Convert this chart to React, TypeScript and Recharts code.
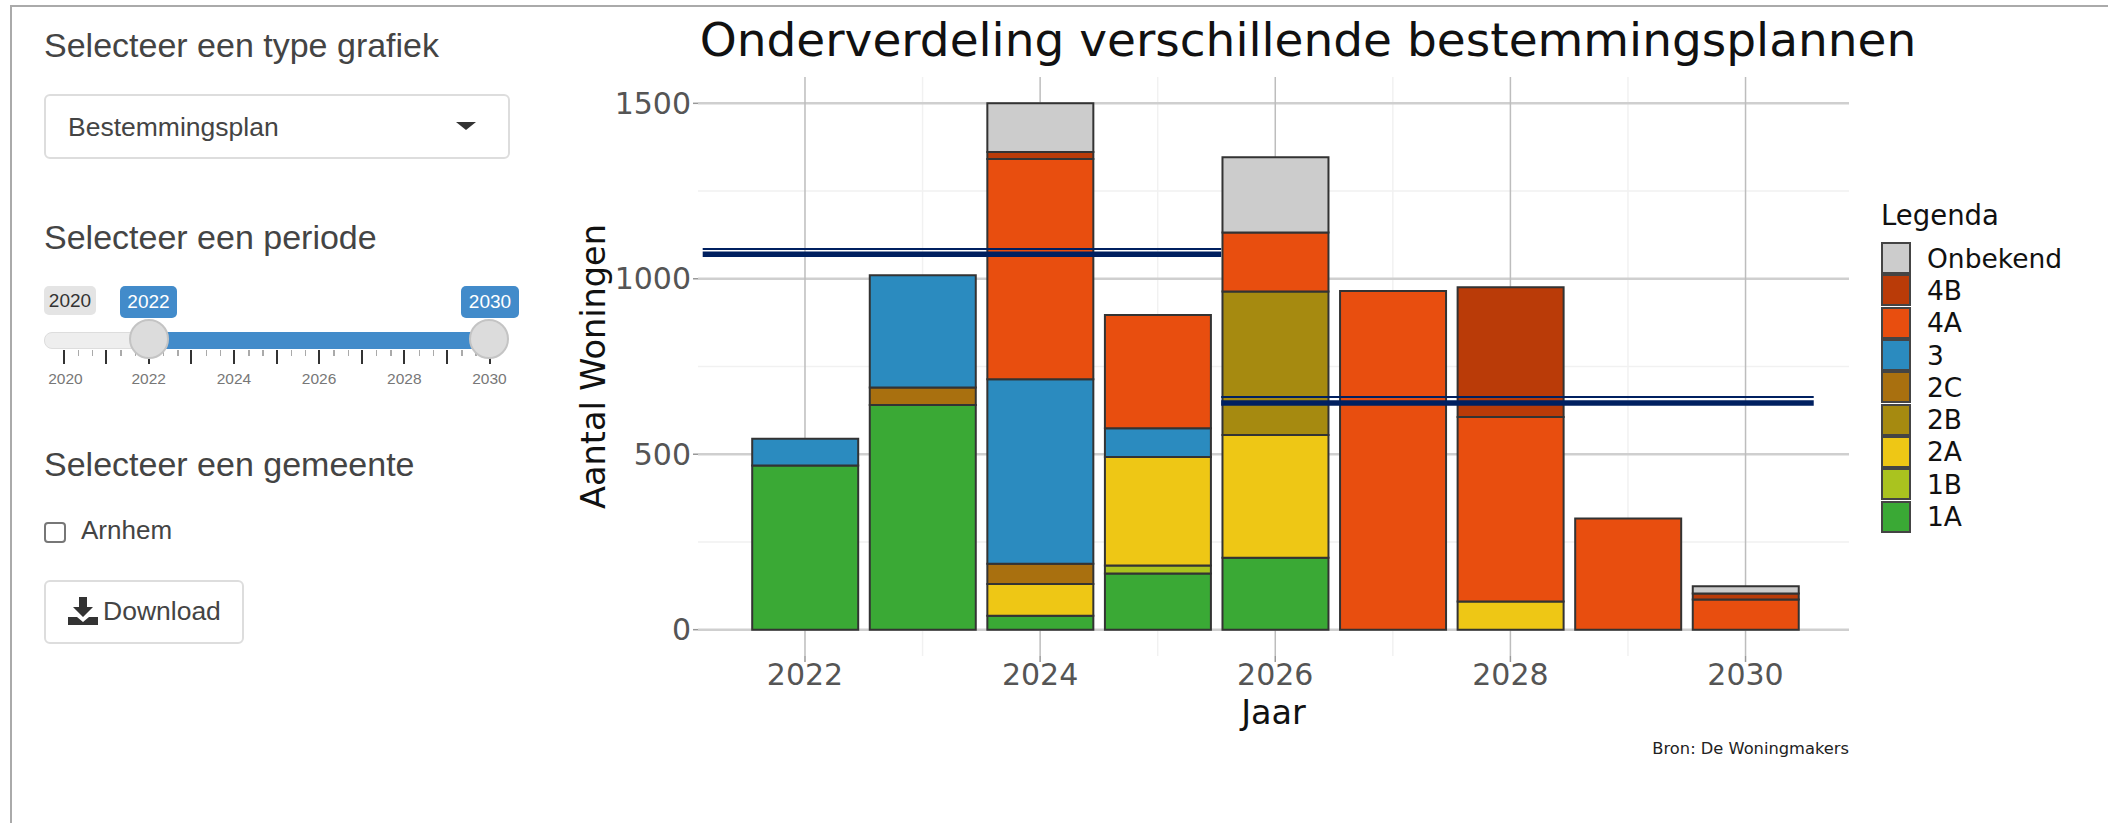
import { BarChart, Bar, XAxis, YAxis, CartesianGrid, ReferenceLine } from "recharts";

const years = [2022, 2023, 2024, 2025, 2026, 2027, 2028, 2029, 2030];
const s1A = [468, 640, 40, 160, 205, 0, 0, 0, 0];
const s1B = [0, 0, 0, 23, 0, 0, 0, 0, 0];
const s2A = [0, 0, 90, 309, 350, 0, 80, 0, 0];
const s2B = [0, 0, 0, 0, 409, 0, 0, 0, 0];
const s2C = [0, 50, 58, 0, 0, 0, 0, 0, 0];
const s3 = [76, 320, 526, 82, 0, 0, 0, 0, 0];
const s4A = [0, 0, 627, 323, 168, 965, 526, 317, 86];
const s4B = [0, 0, 20, 0, 0, 0, 370, 0, 17];
const sOnbekend = [0, 0, 139, 0, 214, 0, 0, 0, 21];

const seriesNames = ["1A", "1B", "2A", "2B", "2C", "3", "4A", "4B", "Onbekend"];
const seriesValues = [s1A, s1B, s2A, s2B, s2C, s3, s4A, s4B, sOnbekend];
const seriesColors = ["#3aa935", "#aac31f", "#eec715", "#a68a10", "#a9700f", "#2b8bbf", "#e84e0f", "#ba3b08", "#cccccc"];

const xTicks = [2022, 2024, 2026, 2028, 2030];
const xMinor = [2023, 2025, 2027, 2029];
const yTicks = [0, 500, 1000, 1500];
const yMinor = [250, 750, 1250];

// the two navy lines somebody drew over the screenshot
const navyLine1 = { from: 2021.13, to: 2025.54, thin: 1085, thick: 1070 };
const navyLine2 = { from: 2025.54, to: 2030.58, thin: 663, thick: 646 };

const sliderYears = [2020, 2021, 2022, 2023, 2024, 2025, 2026, 2027, 2028, 2029, 2030];
const sliderMinor = [1, 2];

const chartData = years.map((year, i) => {
  const row: Record<string, number> = { year };
  seriesNames.forEach((name, j) => {
    row[name] = seriesValues[j][i];
  });
  return row;
});

const sans = "'Liberation Sans', Arial, sans-serif";
const chartFont = "'DejaVu Sans', sans-serif";

function LegendBox() {
  const rows = [...seriesNames].reverse();
  return (
    <div style={{ position: "absolute", left: 1881, top: 200, width: 220, fontFamily: chartFont, color: "#111" }}>
      <div style={{ fontSize: 27.5, height: 42, lineHeight: "30px" }}>Legenda</div>
      {rows.map((name) => (
        <div key={name} style={{ display: "flex", alignItems: "center", height: 32.3 }}>
          <div
            style={{
              width: 30,
              height: 32,
              boxSizing: "border-box",
              background: seriesColors[seriesNames.indexOf(name)],
              border: "2px solid #444",
            }}
          />
          <span style={{ marginLeft: 16, fontSize: 26.5 }}>{name}</span>
        </div>
      ))}
    </div>
  );
}

function Label({ top, children }: { top: number; children: string }) {
  return (
    <div style={{ position: "absolute", left: 44, top: top - 19, lineHeight: "40px", fontSize: 34, color: "#444", whiteSpace: "nowrap" }}>
      {children}
    </div>
  );
}

function Bubble({ x, w, y, h, bg, color, text }: { x: number; w: number; y: number; h: number; bg: string; color: string; text: string }) {
  return (
    <div
      style={{
        position: "absolute",
        left: x,
        top: y,
        width: w,
        height: h,
        lineHeight: h + "px",
        background: bg,
        color,
        borderRadius: 5,
        textAlign: "center",
        fontSize: 19,
      }}
    >
      {text}
    </div>
  );
}

function Sidebar() {
  const sliderX = (i: number) => 63.5 + i * 42.6;
  return (
    <div style={{ fontFamily: sans }}>
      <Label top={44}>Selecteer een type grafiek</Label>
      <div
        style={{
          position: "absolute",
          left: 44,
          top: 94,
          width: 466,
          height: 65,
          boxSizing: "border-box",
          border: "2px solid #ddd",
          borderRadius: 6,
          lineHeight: "62px",
          paddingLeft: 22,
          fontSize: 26.5,
          color: "#444",
        }}
      >
        Bestemmingsplan
        <div
          style={{
            position: "absolute",
            right: 32,
            top: 26,
            borderLeft: "10px solid transparent",
            borderRight: "10px solid transparent",
            borderTop: "8px solid #333",
          }}
        />
      </div>

      <Label top={236}>Selecteer een periode</Label>
      <Bubble x={44} w={52} y={286} h={29} bg="#e4e4e4" color="#333" text="2020" />
      <Bubble x={120} w={57} y={286} h={32} bg="#428bca" color="#fff" text="2022" />
      <Bubble x={461} w={58} y={286} h={32} bg="#428bca" color="#fff" text="2030" />
      <div style={{ position: "absolute", left: 44, top: 332, width: 446, height: 17, background: "#eee", border: "1px solid #ddd", boxSizing: "border-box", borderRadius: 8 }} />
      <div style={{ position: "absolute", left: 149, top: 332, width: 341, height: 17, background: "#428bca" }} />
      {sliderYears.map((yr, i) => (
        <div key={yr}>
          <div style={{ position: "absolute", left: sliderX(i) - 1, top: 350, width: 2, height: 14, background: "#333" }} />
          {i < sliderYears.length - 1 &&
            sliderMinor.map((m) => (
              <div key={m} style={{ position: "absolute", left: sliderX(i) + (m * 42.6) / 3, top: 350, width: 1.5, height: 6, background: "#aaa" }} />
            ))}
          {yr % 2 === 0 && (
            <div style={{ position: "absolute", left: sliderX(i) - 30 + (i === 0 ? 2 : 0), width: 60, top: 370, textAlign: "center", fontSize: 15.5, color: "#777" }}>
              {yr}
            </div>
          )}
        </div>
      ))}
      {[149, 489].map((cx) => (
        <div
          key={cx}
          style={{
            position: "absolute",
            left: cx - 20,
            top: 319,
            width: 40,
            height: 40,
            boxSizing: "border-box",
            borderRadius: "50%",
            background: "#dcdcdc",
            border: "2px solid #c4c4c4",
          }}
        />
      ))}

      <Label top={463}>Selecteer een gemeente</Label>
      <div style={{ position: "absolute", left: 44, top: 522, width: 22, height: 21, boxSizing: "border-box", border: "2px solid #777", borderRadius: 4, background: "#fff" }} />
      <div style={{ position: "absolute", left: 81, top: 510, lineHeight: "40px", fontSize: 26, color: "#444" }}>Arnhem</div>

      <div
        style={{
          position: "absolute",
          left: 44,
          top: 580,
          width: 200,
          height: 64,
          boxSizing: "border-box",
          border: "2px solid #ddd",
          borderRadius: 6,
          lineHeight: "58px",
          paddingLeft: 57,
          fontSize: 26.5,
          color: "#444",
        }}
      >
        <svg width="30" height="28" viewBox="0 0 30 28" style={{ position: "absolute", left: 22, top: 15 }}>
          <path d="M11 0h8v10h6L15 20 5 10h6z M0 20h9l6 5 6-5h9v8H0z" fill="#333" />
        </svg>
        Download
      </div>
    </div>
  );
}

export default function App() {
  return (
    <div style={{ position: "absolute", left: 0, top: 0, width: 2108, height: 823, background: "#fff", overflow: "hidden" }}>
      <div style={{ position: "absolute", left: 10, top: 5, right: -4, bottom: -4, border: "2px solid #aaa" }} />
      <Sidebar />
      <BarChart
        style={{ position: "absolute", left: 0, top: 0 }}
        width={2108}
        height={823}
        data={chartData}
        margin={{ top: 77, right: 259, bottom: 107, left: 598 }}
        barSize={106}
      >
        <CartesianGrid stroke="#f1f1f1" strokeWidth={1.5} horizontalValues={yMinor} verticalValues={xMinor} />
        <CartesianGrid stroke="#cfcfcf" strokeWidth={2.5} horizontalValues={yTicks} vertical={false} />
        <CartesianGrid stroke="#bdbdbd" strokeWidth={1.5} verticalValues={xTicks} horizontal={false} />
        <XAxis
          dataKey="year"
          type="number"
          domain={[2021.09, 2030.88]}
          allowDataOverflow
          ticks={xTicks}
          axisLine={false}
          tickLine={{ stroke: "#999", strokeWidth: 1.5 }}
          tickSize={6}
          tick={{ fill: "#555", fontSize: 30, fontFamily: chartFont }}
          height={60}
          label={{ value: "Jaar", position: "insideBottom", offset: -8, fill: "#111", fontSize: 33.5, fontFamily: chartFont }}
        />
        <YAxis
          type="number"
          domain={[-75, 1575]}
          allowDataOverflow
          ticks={yTicks}
          axisLine={false}
          tickLine={{ stroke: "#999", strokeWidth: 1.5 }}
          tickSize={5}
          tick={{ fill: "#555", fontSize: 30, fontFamily: chartFont }}
          width={100}
          label={{ value: "Aantal Woningen", angle: -90, position: "insideLeft", offset: -5, fill: "#111", fontSize: 33.5, fontFamily: chartFont, style: { textAnchor: "middle" } }}
        />
        {seriesNames.map((name, j) => (
          <Bar key={name} dataKey={name} stackId="a" fill={seriesColors[j]} stroke="#333" strokeWidth={2} isAnimationActive={false} />
        ))}
        <ReferenceLine segment={[{ x: navyLine1.from, y: navyLine1.thin }, { x: navyLine1.to, y: navyLine1.thin }]} stroke="#002060" strokeWidth={2} />
        <ReferenceLine segment={[{ x: navyLine1.from, y: navyLine1.thick }, { x: navyLine1.to, y: navyLine1.thick }]} stroke="#002060" strokeWidth={5.5} />
        <ReferenceLine segment={[{ x: navyLine2.from, y: navyLine2.thin }, { x: navyLine2.to, y: navyLine2.thin }]} stroke="#002060" strokeWidth={2} />
        <ReferenceLine segment={[{ x: navyLine2.from, y: navyLine2.thick }, { x: navyLine2.to, y: navyLine2.thick }]} stroke="#002060" strokeWidth={5.5} />
        <text x={1308} y={56} textAnchor="middle" fontSize={47} fontFamily={chartFont} fill="#111">
          Onderverdeling verschillende bestemmingsplannen
        </text>
        <text x={1849} y={754} textAnchor="end" fontSize={16.3} fontFamily={chartFont} fill="#222">
          Bron: De Woningmakers
        </text>
      </BarChart>
      <LegendBox />
    </div>
  );
}
